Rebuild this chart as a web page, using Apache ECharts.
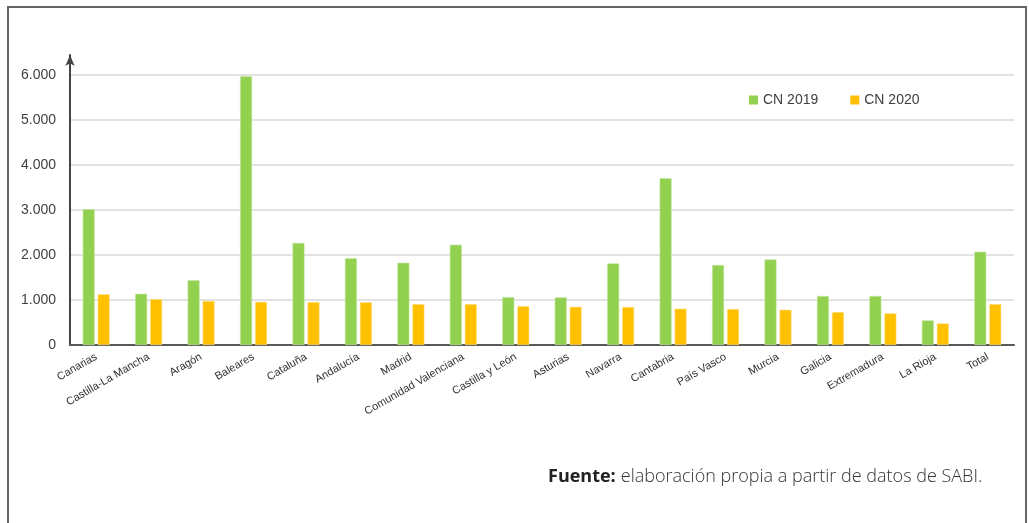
<!DOCTYPE html>
<html>
<head>
<meta charset="utf-8">
<script src="https://cdn.jsdelivr.net/npm/echarts@6/dist/echarts.min.js"></script>
<style>
  html, body { margin: 0; padding: 0; background: #fff; }
  #main { width: 1029px; height: 523px; }
</style>
</head>
<body>
<div id="main"></div>
<script>
// datos
const regiones = ['Canarias', 'Castilla-La Mancha', 'Aragón', 'Baleares', 'Cataluña', 'Andalucía',
  'Madrid', 'Comunidad Valenciana', 'Castilla y León', 'Asturias', 'Navarra', 'Cantabria',
  'País Vasco', 'Murcia', 'Galicia', 'Extremadura', 'La Rioja', 'Total'];
const cn2019 = [3020, 1140, 1440, 5980, 2270, 1930, 1830, 2230, 1065, 1060, 1815, 3710,
  1780, 1905, 1090, 1090, 548, 2075];
const cn2020 = [1130, 1020, 980, 960, 955, 950, 910, 910, 865, 850, 845, 808,
  800, 785, 733, 704, 481, 910];
const yTicks = [0, 1000, 2000, 3000, 4000, 5000, 6000];

const chart = echarts.init(document.getElementById('main'));
const fmt = v => String(v).replace(/\B(?=(\d{3})+(?!\d))/g, '.');
const font = '"Liberation Sans Narrow", "Liberation Sans", Arial, sans-serif';

const option = {
  animation: false,
  backgroundColor: '#fff',
  grid: { left: 70, right: 15, top: 55, bottom: 178 },
  legend: {
    left: 744, top: 88,
    itemWidth: 9, itemHeight: 9, itemGap: 32,
    icon: 'rect',
    itemStyle: { borderWidth: 0 },
    textStyle: { color: '#404040', fontSize: 14, fontFamily: font },
    data: ['CN 2019', 'CN 2020']
  },
  title: {
    left: 543, top: 463,
    text: '{b|Fuente:} {n|elaboración propia a partir de datos de SABI.}',
    textStyle: {
      rich: {
        b: { fontSize: 18, fontWeight: 'bold', color: '#222', fontFamily: '"Open Sans", sans-serif' },
        n: { fontSize: 18, fontWeight: 300, color: '#333', fontFamily: '"Open Sans", sans-serif' }
      }
    }
  },
  xAxis: {
    type: 'category',
    data: regiones,
    axisLine: { lineStyle: { color: '#595959', width: 2 } },
    axisTick: { show: false },
    axisLabel: { interval: 0, rotate: 30, fontSize: 11, color: '#333', margin: 11, fontFamily: 'Liberation Sans, Arial, sans-serif' }
  },
  yAxis: {
    type: 'value',
    min: 0, max: 6450, interval: 1000,
    axisLine: { show: true, symbol: ['none', 'arrow'], symbolSize: [7, 11], lineStyle: { color: '#444', width: 2 } },
    axisTick: { show: false },
    axisLabel: {
      showMaxLabel: false, fontSize: 14, color: '#404040', margin: 14, fontFamily: font,
      formatter: v => (yTicks.indexOf(v) >= 0 ? fmt(v) : '')
    },
    splitLine: { showMaxLine: false, lineStyle: { color: '#d9d9d9', width: 1.5 } }
  },
  series: [
    {
      name: 'CN 2019', type: 'bar', data: cn2019,
      barWidth: 12, barGap: '25%',
      itemStyle: { color: '#92d050', borderColor: '#c4e6a4', borderWidth: 0.6 }
    },
    {
      name: 'CN 2020', type: 'bar', data: cn2020,
      barWidth: 12,
      itemStyle: { color: '#ffc000', borderColor: '#ffe08a', borderWidth: 0.6 }
    }
  ],
  graphic: [
    {
      type: 'polyline',
      shape: { points: [[8, 530], [8, 7], [1026, 7], [1026, 530]] },
      style: { stroke: '#666', lineWidth: 2, fill: null },
      silent: true
    }
  ]
};
chart.setOption(option);
</script>
</body>
</html>
